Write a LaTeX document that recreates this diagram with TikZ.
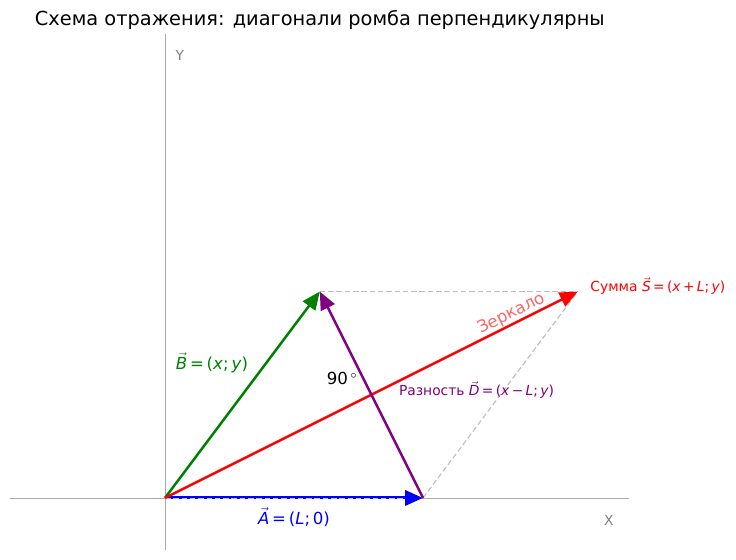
\documentclass[tikz,border=0pt]{standalone}
\usepackage{fontspec}
\setmainfont{DejaVu Sans}
\usetikzlibrary{arrows.meta}
\newcommand{\vl}[1]{$\vec{\textit{#1}}$}
\newcommand{\vi}[1]{\textit{#1}}
\definecolor{mplgreen}{RGB}{0,128,0}
\definecolor{mplpurple}{RGB}{128,0,128}
\definecolor{axisgray}{RGB}{170,170,170}
\definecolor{guidegray}{RGB}{190,190,190}
\tikzset{
  vecarrow/.style={line width=1.8pt,-{Triangle[length=13pt,width=11pt]}},
  guide/.style={guidegray,line width=0.8pt,dash pattern=on 4pt off 2pt},
  axisline/.style={axisgray,line width=0.6pt},
  axislabel/.style={gray,font=\fontsize{10}{12}\selectfont},
  lbl/.style={font=\fontsize{12}{14}\selectfont,inner sep=0pt},
  smalllbl/.style={font=\fontsize{10}{12}\selectfont,inner sep=0pt}
}
\begin{document}
\begin{tikzpicture}[x=1.3106cm,y=1.3106cm]
\useasboundingbox (-3.198,-1.2016) rectangle (11.066,9.651);
\coordinate (O) at (0,0);
\coordinate (A) at (5,0);
\coordinate (B) at (3,4);
\coordinate (S) at (8,4);
\coordinate (xl) at (-3,0);
\coordinate (xr) at (9,0);
\coordinate (yb) at (0,-1);
\coordinate (yt) at (0,9);
\draw[axisline] (xl) -- (xr);
\draw[axisline] (yb) -- (yt);
\node[axislabel] at (8.6,-0.43) (xlabel) {X};
\node[axislabel] at (0.29,8.57) (ylabel) {Y};
\node[font=\fontsize{14}{16}\selectfont] at (3.0,9.264) (title) {Схема отражения: диагонали ромба перпендикулярны};
\draw[guide] (B) -- (S);
\draw[guide] (A) -- (S);
\draw[vecarrow,mplgreen] (O) -- (B);
\draw[vecarrow,blue,line width=2.2pt] (O) -- (A);
\draw[guide,line width=0.6pt,shorten >=14pt] (O) -- (A);
\draw[vecarrow,red] (O) -- (S);
\draw[vecarrow,mplpurple] (A) -- (B);
\node[lbl,mplgreen] at (0.91,2.62) (labB) {\vl{B}\,=\,(\vi{x};\,\vi{y})};
\node[lbl,blue] at (2.5,-0.37) (labA) {\vl{A}\,=\,(\vi{L};\,0)};
\node[lbl] at (3.43,2.31) (angle) {90\,$^\circ$};
\node[smalllbl,red,anchor=west] at (8.24,4.11) (labS) {Сумма \vl{S}\,=\,(\vi{x}\,+\,\vi{L};\,\vi{y})};
\node[smalllbl,mplpurple,anchor=west] at (4.53,2.09) (labD) {Разность \vl{D}\,=\,(\vi{x}\,−\,\vi{L};\,\vi{y})};
\node[lbl,red,opacity=0.6,rotate=26.57] at (6.71,3.57) (mirror) {Зеркало};
\end{tikzpicture}
\end{document}
